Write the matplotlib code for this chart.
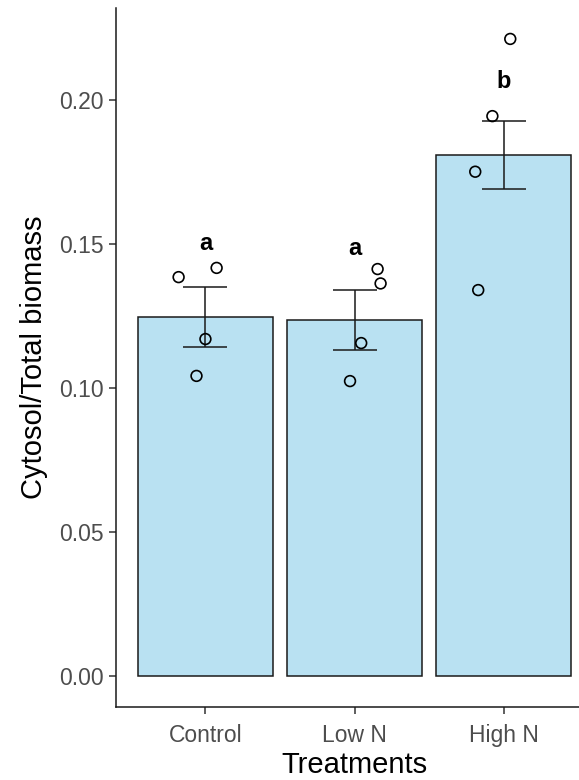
import matplotlib.pyplot as plt
import numpy as np

plt.rcParams['font.family'] = ['Liberation Sans', 'DejaVu Sans']

# treatment groups and summary values
treatments = ['Control', 'Low N', 'High N']
means = [0.1247, 0.1236, 0.1809]
se = [0.0103, 0.0103, 0.0117]
letters = ['a', 'a', 'b']
letter_y = [0.1503, 0.1486, 0.2063]

# individual replicate values with their horizontal jitter
reps = [
    [0.1385, 0.1417, 0.1170, 0.1042],
    [0.1413, 0.1363, 0.1156, 0.1024],
    [0.2212, 0.1944, 0.1751, 0.1340],
]
jitter = [
    [-0.18, 0.075, 0.0, -0.06],
    [0.155, 0.175, 0.045, -0.03],
    [0.045, -0.075, -0.19, -0.17],
]

fig = plt.figure(figsize=(5.79, 7.80), dpi=100)
ax = fig.add_axes([116 / 579, 73 / 780, 477 / 579, 699 / 780])

x = np.arange(1, len(treatments) + 1)
ax.bar(x, means, width=0.9, color='#B9E1F2', edgecolor='#1a1a1a', linewidth=1.1, zorder=1)
ax.errorbar(x, means, yerr=se, fmt='none', ecolor='#1a1a1a', elinewidth=1.1,
            capsize=16, capthick=1.1, zorder=2)

for i in range(len(treatments)):
    xs = x[i] + np.array(jitter[i])
    ax.scatter(xs, reps[i], s=60, facecolors='none', edgecolors='black',
               linewidths=1.2, zorder=3)
    ax.text(x[i], letter_y[i], letters[i], ha='center', va='center',
            fontsize=17, fontweight='bold', color='black')

ax.set_xlim(0.4, 3.6)
ax.set_ylim(-0.01076, 0.23194)
ax.set_xticks(x)
ax.set_xticklabels(treatments)
ax.set_yticks([0.0, 0.05, 0.10, 0.15, 0.20])
ax.set_yticklabels(['0.00', '0.05', '0.10', '0.15', '0.20'])
ax.tick_params(axis='both', colors='#333333', labelcolor='#4D4D4D',
               labelsize=16.5, length=5, width=1.1)
ax.tick_params(axis='y', pad=4)
ax.tick_params(axis='x', pad=7)

ax.spines['top'].set_visible(False)
ax.spines['right'].set_visible(False)
for s in ['left', 'bottom']:
    ax.spines[s].set_linewidth(1.1)
    ax.spines[s].set_color('#1a1a1a')

ax.set_xlabel('Treatments', fontsize=21, color='black', labelpad=3)
ax.set_ylabel('Cytosol/Total biomass', fontsize=21, color='black', labelpad=8)

fig.savefig('out.png', dpi=100)
